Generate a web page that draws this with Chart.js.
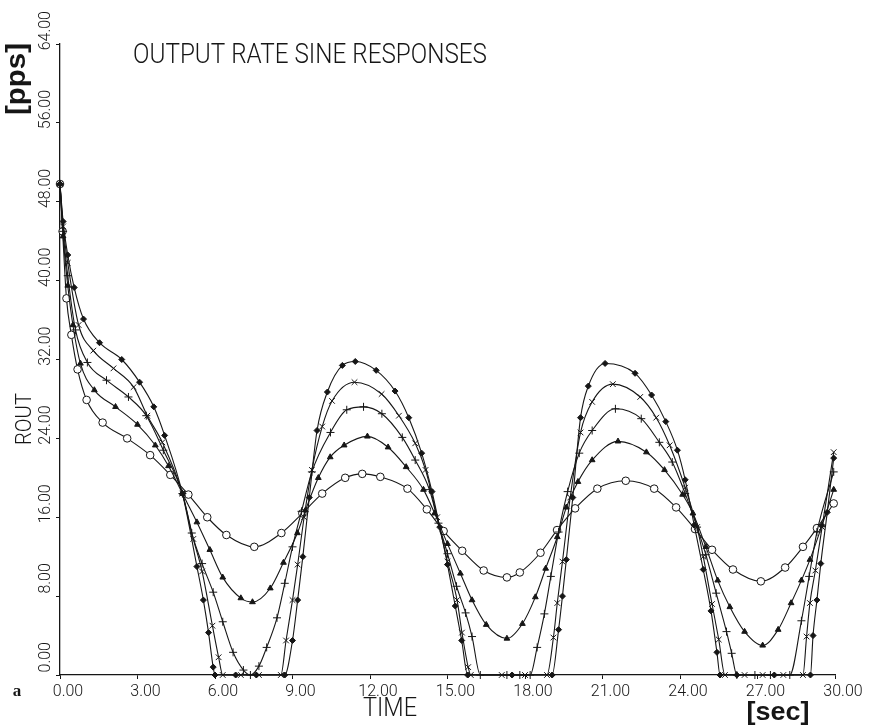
<!DOCTYPE html>
<html>
<head>
<meta charset="utf-8">
<title>Output rate sine responses</title>
<script src="https://cdn.jsdelivr.net/npm/chart.js@4.4.1/dist/chart.umd.min.js"></script>
<style>
	html, body { margin: 0; padding: 0; background: #fff; }
	#wrap { width: 871px; height: 726px; }
</style>
</head>
<body>
<div id="wrap"><canvas id="rateChart" width="871" height="726"></canvas></div>
<script>
// time axis [sec] and output rate axis [pps]
var xTicks = [0, 3, 6, 9, 12, 15, 18, 21, 24, 27, 30];
var yTicks = [0, 8, 16, 24, 32, 40, 48, 56, 64];

// open circles - smallest swing
var circleT = [0, 0.1, 0.25, 0.44, 0.68, 1.03, 1.65, 2.6, 3.49, 4.27, 4.97, 5.7, 6.44, 7.52, 8.57, 9.38, 10.15, 11.04, 11.7, 12.4, 13.45, 14.2, 14.85, 15.57, 16.4, 17.3, 17.8, 18.6, 19.24, 19.94, 20.8, 21.9, 23.0, 23.85, 24.58, 25.24, 26.05, 27.13, 28.07, 28.76, 29.3, 29.95];
var circleV = [49.8, 45.0, 38.2, 34.5, 31.0, 27.9, 25.6, 24.0, 22.3, 20.3, 18.3, 16.0, 14.2, 13.0, 14.4, 16.4, 18.4, 20.0, 20.4, 20.1, 18.9, 16.8, 14.6, 12.6, 10.6, 9.9, 10.4, 12.4, 14.7, 16.9, 18.9, 19.7, 18.9, 17.0, 14.8, 12.7, 10.7, 9.5, 10.9, 13.0, 14.9, 17.4];

// filled triangles
var triT = [0, 0.12, 0.3, 0.5, 0.79, 1.33, 2.15, 3.0, 3.69, 4.2, 4.74, 5.3, 5.8, 6.3, 7.0, 7.45, 8.14, 8.65, 9.19, 9.5, 10.0, 10.46, 11.0, 11.9, 12.7, 13.4, 14.07, 14.5, 15.0, 15.5, 15.95, 16.5, 17.3, 17.9, 18.4, 18.8, 19.25, 19.6, 20.05, 20.6, 21.6, 22.7, 23.4, 24.1, 24.5, 25.0, 25.46, 25.93, 26.5, 27.2, 27.8, 28.3, 28.7, 29.03, 29.5, 29.95];
var triV = [49.8, 44.5, 39.5, 35.5, 31.6, 28.9, 27.2, 25.4, 23.3, 21.2, 18.4, 15.5, 12.7, 9.9, 7.8, 7.4, 8.8, 11.4, 14.4, 16.7, 20.0, 22.1, 23.3, 24.2, 23.1, 21.1, 18.8, 16.4, 13.3, 10.3, 7.6, 5.1, 3.7, 5.2, 7.9, 10.8, 14.0, 17.0, 19.6, 21.8, 23.7, 22.6, 20.8, 18.3, 16.4, 13.0, 9.6, 6.9, 4.4, 3.0, 4.6, 7.3, 9.6, 11.7, 15.2, 18.8];

// plus signs
var plusT = [0, 0.12, 0.3, 0.6, 1.06, 1.8, 2.65, 3.34, 4.0, 4.74, 5.1, 5.5, 5.93, 6.3, 6.7, 7.1, 7.37, 7.7, 8.0, 8.4, 8.7, 9.0, 9.35, 9.75, 10.47, 11.1, 11.75, 12.46, 13.25, 13.75, 14.3, 14.65, 15.0, 15.35, 15.7, 15.95, 16.27, 17.3, 17.8, 18.2, 18.47, 18.75, 19.0, 19.3, 19.65, 20.1, 20.6, 21.5, 22.5, 23.2, 23.7, 24.2, 24.66, 25.0, 25.4, 25.8, 26.0, 26.2, 26.9, 27.5, 28.25, 28.7, 29.0, 29.3, 29.95];
var plusV = [49.8, 45.0, 40.5, 35.0, 31.7, 29.9, 28.2, 26.3, 22.8, 18.4, 14.4, 11.3, 8.4, 5.4, 2.3, 0.5, 0, 0.9, 2.8, 5.8, 9.3, 13.0, 16.6, 20.6, 24.6, 26.9, 27.2, 26.5, 24.1, 21.8, 18.8, 15.4, 12.3, 9.0, 6.3, 3.9, 0, 0, 0, 0, 2.8, 6.2, 10.0, 14.5, 18.6, 22.5, 24.8, 27.0, 26.0, 23.6, 21.6, 18.4, 15.0, 12.2, 8.3, 4.4, 2.2, 0, 0, 0, 0, 5.5, 10.0, 14.5, 20.6];

// crosses
var crossT = [0, 0.12, 0.3, 0.72, 1.29, 2.07, 2.85, 3.38, 3.96, 4.74, 5.16, 5.5, 5.9, 6.14, 6.3, 7.0, 7.7, 8.55, 8.75, 9.0, 9.2, 9.45, 9.75, 10.15, 10.53, 11.4, 12.45, 13.12, 13.75, 14.15, 14.6, 15.0, 15.37, 15.56, 15.8, 15.9, 17.1, 18.0, 18.85, 19.1, 19.25, 19.45, 19.75, 20.15, 20.6, 21.4, 22.46, 23.08, 23.6, 24.2, 24.66, 24.9, 25.24, 25.5, 25.74, 26.5, 27.2, 28.0, 28.76, 28.9, 29.03, 29.24, 29.5, 29.95];
var crossV = [49.8, 45.5, 41.8, 35.5, 32.9, 31.1, 29.2, 26.3, 23.6, 18.4, 13.8, 10.5, 5.0, 1.8, 0, 0, 0, 0, 3.5, 7.6, 11.2, 16.0, 20.8, 25.2, 27.8, 29.7, 28.5, 26.3, 23.5, 20.8, 16.0, 11.5, 7.6, 4.3, 0.8, 0, 0, 0, 0, 3.8, 7.3, 11.5, 18.0, 24.6, 27.7, 29.5, 28.2, 26.1, 23.3, 19.0, 15.0, 12.0, 7.2, 3.6, 0, 0, 0, 0, 0, 3.9, 7.3, 10.6, 15.0, 22.6];

// filled diamonds - largest swing
var diaT = [0, 0.12, 0.3, 0.55, 0.91, 1.53, 2.39, 3.08, 3.63, 4.05, 4.74, 5.3, 5.55, 5.75, 5.93, 6.0, 6.8, 7.6, 8.7, 9.0, 9.2, 9.4, 9.65, 9.95, 10.35, 10.93, 11.43, 12.24, 12.97, 13.5, 14.0, 14.4, 14.7, 15.0, 15.3, 15.55, 15.78, 17.5, 19.05, 19.3, 19.45, 19.6, 19.85, 20.15, 20.45, 21.1, 22.26, 22.9, 23.45, 23.9, 24.2, 24.55, 24.9, 25.2, 25.43, 25.55, 26.2, 27.65, 29.05, 29.15, 29.3, 29.45, 29.7, 29.95];
var diaV = [49.8, 46.0, 42.6, 39.3, 36.1, 33.7, 32.0, 29.7, 27.2, 24.3, 18.4, 11.0, 7.6, 4.3, 0.8, 0, 0, 0, 0, 3.5, 7.6, 12.0, 18.0, 24.8, 28.7, 31.4, 31.8, 30.9, 28.8, 26.1, 22.5, 18.6, 15.0, 11.2, 7.0, 3.5, 0, 0, 0, 4.6, 8.0, 11.7, 18.0, 26.1, 29.3, 31.6, 30.6, 28.4, 25.7, 22.8, 19.8, 15.2, 10.7, 6.5, 2.3, 0, 0, 0, 0, 4.0, 7.6, 11.3, 16.5, 22.0];

var ink = '#161616';
var plotterFont = "'Roboto', 'Liberation Sans Narrow', sans-serif";

function toPoints(ts, vs) {
	var pts = [];
	for(var i = 0; i < ts.length; i++) {
		pts.push({x: ts[i], y: vs[i]});
	}
	return pts;
}

function makeSeries(name, ts, vs, style, radius, fill) {
	return {
		label: name,
		data: toPoints(ts, vs),
		borderColor: ink,
		borderWidth: 1.1,
		cubicInterpolationMode: 'monotone',
		pointStyle: style,
		pointRadius: radius,
		pointBorderWidth: 1,
		pointBorderColor: ink,
		pointBackgroundColor: fill,
		clip: false
	};
}

// text drawn squeezed or stretched to a given length
function drawFitted(ctx, text, cx, cy, len, font, angle) {
	ctx.save();
	ctx.font = font;
	ctx.textAlign = 'center';
	ctx.textBaseline = 'middle';
	var w = ctx.measureText(text).width;
	ctx.translate(cx, cy);
	if(angle) ctx.rotate(angle);
	ctx.scale(len / w, 1);
	ctx.fillText(text, 0, 0);
	ctx.restore();
}

var plotLabels = {
	id: 'plotLabels',
	afterDraw: function(chart) {
		var ctx = chart.ctx;
		ctx.save();
		ctx.fillStyle = ink;
		drawFitted(ctx, 'OUTPUT RATE SINE RESPONSES', 310, 56, 354, '300 27px ' + plotterFont);
		drawFitted(ctx, 'TIME', 390, 710, 54, '300 25px ' + plotterFont);
		drawFitted(ctx, 'ROUT', 25, 419, 52, '300 22px ' + plotterFont, -Math.PI / 2);
		drawFitted(ctx, '[pps]', 18, 79, 72, 'bold 27px "Liberation Sans", Arial, sans-serif', -Math.PI / 2);
		drawFitted(ctx, '[sec]', 778, 713, 63, 'bold 26px "Liberation Sans", Arial, sans-serif');
		ctx.font = 'bold 17px "Liberation Serif", "DejaVu Serif", serif';
		ctx.textAlign = 'center';
		ctx.textBaseline = 'middle';
		ctx.fillText('a', 17, 692);
		ctx.restore();
	}
};

// first dataset is painted last, so the diamonds sit on top at the start point
var config = {
	type: 'line',
	data: {
		datasets: [
			makeSeries('diamond', diaT, diaV, 'rectRot', 3.0, ink),
			makeSeries('cross', crossT, crossV, 'crossRot', 4.0, ink),
			makeSeries('plus', plusT, plusV, 'cross', 4.0, ink),
			makeSeries('triangle', triT, triV, 'triangle', 3.3, ink),
			makeSeries('circle', circleT, circleV, 'circle', 3.8, '#fff')
		]
	},
	options: {
		responsive: false,
		animation: false,
		layout: { padding: { top: 44, right: 36, bottom: 0, left: 0 } },
		plugins: {
			legend: { display: false },
			tooltip: { enabled: false },
			title: { display: false }
		},
		scales: {
			x: {
				type: 'linear',
				min: 0,
				max: 30,
				afterFit: function(scale) { scale.height = 51; },
				afterBuildTicks: function(scale) {
					scale.ticks = xTicks.map(function(v) { return {value: v}; });
				},
				grid: { display: true, drawOnChartArea: false, drawTicks: true, tickLength: 4, color: ink },
				border: { display: true, color: ink, width: 1.3 },
				ticks: {
					color: ink,
					padding: 3,
					labelOffset: 8,
					maxRotation: 0,
					font: { family: plotterFont, size: 16, weight: '300' },
					callback: function(v) { return Number(v).toFixed(2); }
				}
			},
			y: {
				type: 'linear',
				min: 0,
				max: 64,
				afterFit: function(scale) { scale.width = 60; },
				afterBuildTicks: function(scale) {
					scale.ticks = yTicks.map(function(v) { return {value: v}; });
				},
				grid: { display: true, drawOnChartArea: false, drawTicks: true, tickLength: 4, color: ink },
				border: { display: true, color: ink, width: 1.3 },
				ticks: {
					color: ink,
					padding: 10,
					minRotation: 90,
					maxRotation: 90,
					labelOffset: -33,
					font: { family: plotterFont, size: 16, weight: '300' },
					callback: function(v) { return Number(v).toFixed(2); }
				}
			}
		}
	},
	plugins: [plotLabels]
};

var rateChart = new Chart(document.getElementById('rateChart'), config);
</script>
</body>
</html>
